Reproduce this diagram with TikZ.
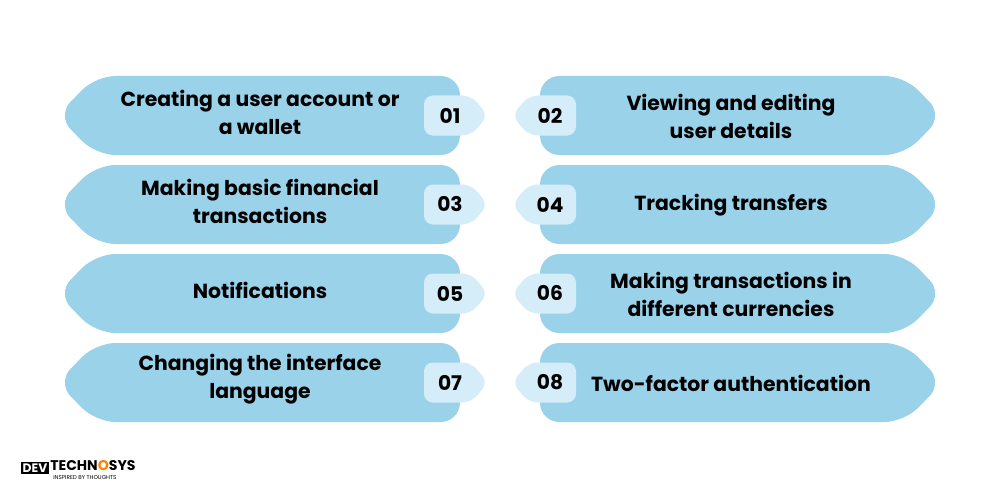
\documentclass[tikz,border=0pt]{standalone}
\usepackage{fontspec}
\setmainfont{Poppins}
\usepackage{tikz}
\definecolor{boxblue}{HTML}{9AD2EA}
\definecolor{badgeblue}{HTML}{D5EDF8}
\tikzset{
  label/.style={font=\bfseries\fontsize{11.6}{16}\selectfont, align=center, text=black},
  num/.style={font=\bfseries\fontsize{11.5}{13}\selectfont, text=black}
}
\begin{document}
\begin{tikzpicture}[x=0.02cm, y=-0.02cm]
\useasboundingbox (0,0) rectangle (1000,500);
\fill[white] (0,0) rectangle (1000,500);
\foreach \row/\nl/\nr/\tl/\tr in {
  0/01/02/{Creating a user account or\\a wallet}/{Viewing and editing\\user details},
  1/03/04/{Making basic financial\\transactions}/{Tracking transfers},
  2/05/06/{Notifications}/{Making transactions in\\different currencies},
  3/07/08/{Changing the interface\\language}/{Two-factor authentication}}{
  \pgfmathsetmacro{\yt}{76+89*\row}
  \pgfmathsetmacro{\ym}{\yt+39.5}
  \pgfmathsetmacro{\yb}{\yt+79}
  % left box
  \fill[boxblue, rounded corners=11] (460,\yt) -- (96,\yt) -- (57,\ym) -- (96,\yb) -- (460,\yb) -- cycle;
  \fill[badgeblue, rounded corners=5] (424,\ym-20) -- (471,\ym-20) -- (488,\ym) -- (471,\ym+20) -- (424,\ym+20) -- cycle;
  \node[num] (n\nl) at (450,\ym) {\nl};
  \node[label] (t\nl) at (260,\ym-3) {\tl};
  % right box
  \fill[boxblue, rounded corners=11] (540,\yt) -- (904,\yt) -- (943,\ym) -- (904,\yb) -- (540,\yb) -- cycle;
  \fill[badgeblue, rounded corners=5] (576,\ym-20) -- (529,\ym-20) -- (512,\ym) -- (529,\ym+20) -- (576,\ym+20) -- cycle;
  \node[num] (n\nr) at (550,\ym) {\nr};
  \node[label] (t\nr) at (731,\ym+1) {\tr};
}
% logo
\node[font=\bfseries\fontsize{7}{8}\selectfont, fill=black, text=white, inner sep=1pt] (dev) at (35,468) {DEV};
\node[font=\bfseries\fontsize{8}{9}\selectfont, anchor=west, inner sep=0pt] (tech) at (50,466) {TECHN\textcolor{orange}{O}SYS};
\node[font=\fontsize{3.2}{4}\selectfont, anchor=north west, inner sep=0pt] (tag) at (53,475) {INSPIRED BY THOUGHTS};
\end{tikzpicture}
\end{document}
